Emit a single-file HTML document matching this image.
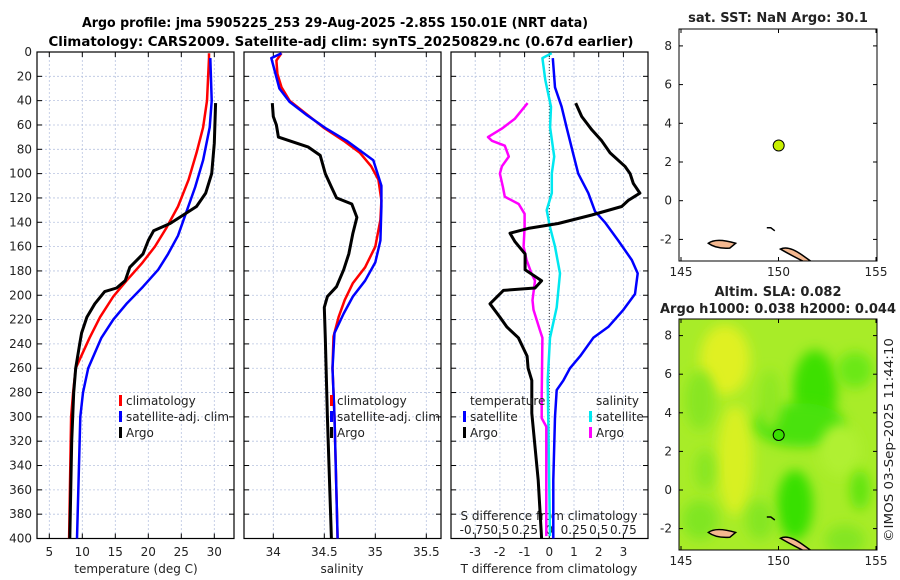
<!DOCTYPE html>
<html><head><meta charset="utf-8">
<style>
html,body{margin:0;padding:0;background:#fff;}
svg{display:block;font-family:"DejaVu Sans","Liberation Sans",sans-serif;}
</style></head>
<body>
<svg id="chart" width="900" height="580" viewBox="0 0 900 580" xmlns="http://www.w3.org/2000/svg">
<defs>
<filter id="blur6" x="-50%" y="-50%" width="200%" height="200%"><feGaussianBlur stdDeviation="6"/></filter>
<clipPath id="clipMap2"><rect x="679" y="319" width="198" height="231"/></clipPath>
<clipPath id="clipMap1"><rect x="679" y="29" width="198" height="232"/></clipPath>
</defs>
<text x="335" y="27" text-anchor="middle" font-size="13" font-weight="bold" textLength="506" lengthAdjust="spacingAndGlyphs">Argo profile: jma 5905225_253 29-Aug-2025 -2.85S 150.01E (NRT data)</text>
<text x="341" y="46" text-anchor="middle" font-size="13" font-weight="bold" textLength="585" lengthAdjust="spacingAndGlyphs">Climatology: CARS2009. Satellite-adj clim: synTS_20250829.nc (0.67d earlier)</text>
<g id="layer"></g>
</svg>
<script>
// ---------- data ----------
const tempDepth = [1,5,40,62,83,105,127,145,160,174,188,201,218,235,260,280,300,400];
const tempClim  = [29.2,29.2,28.9,28.3,27.3,26.1,24.5,22.7,21.0,19.0,16.7,14.7,12.7,11.1,9.0,8.6,8.3,8.0];
const tempSatDepth = [5,40,62,89,111,131,151,166,179,193,207,220,235,260,280,300,400];
const tempSat   = [29.4,29.6,29.3,28.3,27.1,25.8,24.5,23.0,21.5,19.2,16.7,14.7,12.9,10.9,10.1,9.7,9.2];
const argoDepth = [42,75,100,116,127,134,141,147,155,166,177,188,194,197,207,218,231,240,260,280,320,400];
const argoTemp  = [30.2,30.0,29.6,28.7,27.3,25.3,23.3,20.8,20.0,19.2,17.2,16.5,15.2,13.4,11.9,10.7,9.9,9.6,9.0,8.7,8.4,8.1];

const salClimDepth = [1,7,18,29,40,50,62,73,83,94,105,122,138,160,177,190,204,218,234,260,300,400];
const salClim = [34.08,34.03,34.04,34.08,34.16,34.31,34.49,34.69,34.85,34.96,35.03,35.06,35.05,35.0,34.9,34.78,34.70,34.64,34.59,34.58,34.60,34.63];
const salSatDepth = [1,5,30,41,52,63,73,89,110,127,155,173,188,201,215,231,260,300,400];
const salSat = [34.08,33.98,34.06,34.16,34.33,34.52,34.72,34.98,35.06,35.06,35.05,35.0,34.9,34.78,34.69,34.6,34.58,34.6,34.63];
const salArgoDepth = [42,53,60,70,73,78,85,100,111,120,125,136,149,166,179,193,201,210,235,300,400];
const salArgo = [33.99,34.0,34.03,34.05,34.16,34.34,34.46,34.51,34.57,34.62,34.77,34.82,34.78,34.74,34.69,34.62,34.53,34.50,34.51,34.53,34.57];

const dTSatDepth = [5,29,45,62,84,100,116,131,140,155,171,182,199,212,226,235,250,260,270,278,300,352,400];
const dTSat = [0.14,0.23,0.5,0.7,0.97,1.17,1.58,1.85,2.25,2.79,3.34,3.58,3.47,3.0,2.39,1.78,1.25,0.84,0.57,0.3,0.23,0.16,0.16];
const dTArgoDepth = [42,53,64,73,83,94,100,108,116,122,127,134,141,145,149,156,166,179,188,194,196,207,218,226,235,250,260,270,297,352,400];
const dTArgo = [1.07,1.31,1.72,2.12,2.46,3.06,3.27,3.4,3.67,3.2,2.93,1.72,0.36,-0.85,-1.59,-1.39,-0.98,-0.98,-0.31,-0.58,-1.86,-2.4,-2.0,-1.72,-1.25,-0.9,-0.86,-0.71,-0.71,-0.45,-0.31];
const dSSatDepth = [1,5,23,45,62,86,100,116,130,144,160,182,210,235,270,398];
const dSSat = [0.024,-0.07,-0.04,0.017,0.008,0.05,0.025,0.025,-0.026,0.007,0.058,0.108,0.075,0.007,-0.016,0.007];
const dSArgoDepth = [42,55,63,70,73,77,86,94,100,111,119,125,133,144,160,171,182,188,204,212,229,235,283,301,308,398];
const dSArgo = [-0.22,-0.35,-0.48,-0.62,-0.58,-0.45,-0.41,-0.48,-0.50,-0.47,-0.45,-0.31,-0.25,-0.25,-0.26,-0.23,-0.18,-0.145,-0.17,-0.16,-0.094,-0.07,-0.077,-0.077,-0.03,-0.03];

const depthTicks = [0,20,40,60,80,100,120,140,160,180,200,220,240,260,280,300,320,340,360,380,400];
const tempTicks = [5,10,15,20,25,30];
const salTicks = [34,34.5,35,35.5];
const dTTicks = [-3,-2,-1,0,1,2,3];
const dSTicks = [-0.75,-0.5,-0.25,0,0.25,0.5,0.75];
const dSTickLabels = ["-0.75","0.5","0.25","0","0.25","0.5","0.75"];
const lonTicks = [145,150,155];
const latTicks = [-2,0,2,4,6,8];
const argoLon = [150.01];
const argoLat = [2.85];

// ---------- helpers ----------
const NS = "http://www.w3.org/2000/svg";
const layer = document.getElementById('layer');
function mk(tag, attrs, parent){ const e=document.createElementNS(NS,tag); for(const k in attrs) e.setAttribute(k,attrs[k]); (parent||layer).appendChild(e); return e; }

const FS = 12;
const TOP = 52, BOT = 538.5;
const yD = d => TOP + d*(BOT-TOP)/400;
const xT = t => 49.3 + (t-5)*6.6;
const xS = s => 273.3 + (s-34)*102;
const xDT = v => 549.3 + v*24.7;
const xDS = v => 549.3 + v*4*24.7;
const xLon = l => 681 + (l-145)*19.5;
const yLat1 = l => 200.7 - l*19.35;
const yLat2 = l => 490 - l*19.3;

const panels = [{x:37,w:197,name:'temperature'},{x:244,w:197,name:'salinity'},{x:451,w:197,name:'difference'}];

function gridAndFrame(p, xs, xf){
  const g = mk('g',{});
  
  
  xs.forEach(v=>{ const x=xf(v); mk('line',{x1:x,x2:x,y1:TOP,y2:BOT,stroke:'#b8c4e0','stroke-width':0.8,'stroke-dasharray':'2,2'},g); });
  depthTicks.forEach(d=>{ const y=yD(d); if(d>0&&d<400) mk('line',{x1:p.x,x2:p.x+p.w,y1:y,y2:y,stroke:'#b8c4e0','stroke-width':0.8,'stroke-dasharray':'2,2'},g);
    mk('line',{x1:p.x,x2:p.x+5,y1:y,y2:y,stroke:'#000','stroke-width':1},g);
    mk('line',{x1:p.x+p.w-5,x2:p.x+p.w,y1:y,y2:y,stroke:'#000','stroke-width':1},g); });
  xs.forEach(v=>{ const x=xf(v); mk('line',{x1:x,x2:x,y1:BOT,y2:BOT-5,stroke:'#000'},g); mk('line',{x1:x,x2:x,y1:TOP,y2:TOP+5,stroke:'#000'},g); });
  mk('rect',{x:p.x,y:TOP,width:p.w,height:BOT-TOP,fill:'none',stroke:'#000','stroke-width':1.2},g);
  return g;
}
function curve(xs, ds, xf, color, w, name){
  const pts = xs.map((v,i)=>xf(v).toFixed(1)+','+yD(ds[i]).toFixed(1)).join(' ');
  const el = mk('polyline',{points:pts,fill:'none',stroke:color,'stroke-width':w,'stroke-linejoin':'round'});
  
  
}
function txt(x,y,s,opts){ const e=mk('text',Object.assign({x:x,y:y,'font-size':FS,fill:'#222'},opts||{})); e.textContent=s; return e; }

gridAndFrame(panels[0], tempTicks, xT);
gridAndFrame(panels[1], salTicks, xS);
gridAndFrame(panels[2], dTTicks, xDT);
mk('line',{x1:xDT(0),x2:xDT(0),y1:TOP,y2:BOT,stroke:'#333','stroke-width':1,'stroke-dasharray':'1,2'});

depthTicks.forEach(d=>{ const e=txt(32,yD(d)+4,String(d),{'text-anchor':'end'});
    });
tempTicks.forEach(t=>{ const e=txt(xT(t),556,String(t),{'text-anchor':'middle'});
    });
salTicks.forEach(t=>{ const e=txt(xS(t),556,String(t),{'text-anchor':'middle'});
    });
dTTicks.forEach(t=>{ const e=txt(xDT(t),556,String(t),{'text-anchor':'middle'});
    });
dSTicks.forEach((t,i)=>{ const e=txt(xDS(t),534,dSTickLabels[i],{'text-anchor':'middle'});
    });

let e;
e=txt(136,573,'temperature (deg C)',{'text-anchor':'middle'});  
e=txt(342,573,'salinity',{'text-anchor':'middle'});  
e=txt(549,573,'T difference from climatology',{'text-anchor':'middle'});  
e=txt(549,520,'S difference from climatology',{'text-anchor':'middle'});  

curve(tempClim,tempDepth,xT,'#ff0000',2.5,'temp-climatology-line');
curve(tempSat,tempSatDepth,xT,'#0000ff',2.5,'temp-satellite-line');
curve(argoTemp,argoDepth,xT,'#000',3,'temp-argo-line');
curve(salClim,salClimDepth,xS,'#ff0000',2.5,'sal-climatology-line');
curve(salSat,salSatDepth,xS,'#0000ff',2.5,'sal-satellite-line');
curve(salArgo,salArgoDepth,xS,'#000',3,'sal-argo-line');
curve(dSSat,dSSatDepth,xDS,'#00e8f0',2.5,'s-diff-satellite-line');
curve(dSArgo,dSArgoDepth,xDS,'#ff00ff',2.5,'s-diff-argo-line');
curve(dTSat,dTSatDepth,xDT,'#0000ff',2.5,'t-diff-satellite-line');
curve(dTArgo,dTArgoDepth,xDT,'#000',3,'t-diff-argo-line');

function legend(x,y,color,label,name){
  const g=mk('g',{});  
  mk('rect',{x:x,y:y-10,width:3,height:11,fill:color},g);
  const t=mk('text',{x:x+7,y:y,'font-size':FS,fill:'#222'},g); t.textContent=label;
}
legend(119,405,'#ff0000','climatology','legend-temp-climatology');
legend(119,421,'#0000ff','satellite-adj. clim','legend-temp-satellite');
legend(119,437,'#000','Argo','legend-temp-argo');
legend(330,405,'#ff0000','climatology','legend-sal-climatology');
legend(330,421,'#0000ff','satellite-adj. clim','legend-sal-satellite');
legend(330,437,'#000','Argo','legend-sal-argo');
e=txt(470,405,'temperature');  
e=txt(596,405,'salinity');  
legend(463,421,'#0000ff','satellite','legend-t-diff-satellite');
legend(463,437,'#000','Argo','legend-t-diff-argo');
legend(589,421,'#00e8f0','satellite','legend-s-diff-satellite');
legend(589,437,'#ff00ff','Argo','legend-s-diff-argo');

// ---------- maps ----------
function mapFrame(top,bot,yf,name){
  const g=mk('g',{});  
  lonTicks.forEach(l=>{ const x=xLon(l); mk('line',{x1:x,x2:x,y1:bot,y2:bot-4,stroke:'#000'},g); mk('line',{x1:x,x2:x,y1:top,y2:top+4,stroke:'#000'},g);
    const t=mk('text',{x:x,y:bot+15,'font-size':FS,'text-anchor':'middle',fill:'#222'},g); t.textContent=l; });
  latTicks.forEach(l=>{ const y=yf(l); mk('line',{x1:679,x2:683,y1:y,y2:y,stroke:'#000'},g); mk('line',{x1:873,x2:877,y1:y,y2:y,stroke:'#000'},g);
    const t=mk('text',{x:672,y:y+4,'font-size':FS,'text-anchor':'end',fill:'#222'},g); t.textContent=l; });
  mk('rect',{x:679,y:top,width:198,height:bot-top,fill:'none',stroke:'#000','stroke-width':1},g);
  return g;
}
const bg=mk('g',{'clip-path':'url(#clipMap2)'});  
mk('rect',{x:679,y:319,width:198,height:231,fill:'#a8ec28'},bg);
const blobs=[[725,360,25,35,'#e0f020'],[735,460,18,55,'#d8f020'],[700,400,15,30,'#88e620'],[815,390,22,40,'#3ee000'],[800,425,45,22,'#48e208'],[840,450,20,26,'#b0f030'],[795,505,18,35,'#38e000'],[860,490,10,20,'#60e410'],[855,370,18,18,'#6ae818'],[700,520,18,20,'#80e620'],[760,520,14,20,'#84e620'],[845,540,20,15,'#84e620'],[705,470,10,20,'#88e620'],[770,400,12,30,'#90e820']];
blobs.forEach(b=>mk('ellipse',{cx:b[0],cy:b[1],rx:b[2],ry:b[3],fill:b[4],filter:'url(#blur6)'},bg));
function islands(yf,clip){
  const g=mk('g',{'clip-path':clip});  
  mk('path',{d:`M${xLon(146.4)},${yf(-2.2)} Q${xLon(146.8)},${yf(-1.9)} ${xLon(147.8)},${yf(-2.2)} L${xLon(147.5)},${yf(-2.45)} Q${xLon(146.8)},${yf(-2.5)} ${xLon(146.4)},${yf(-2.2)}Z`,fill:'#f4b890',stroke:'#000','stroke-width':1.5},g);
  mk('path',{d:`M${xLon(150.1)},${yf(-2.5)} Q${xLon(150.5)},${yf(-2.3)} ${xLon(151.2)},${yf(-2.8)} L${xLon(151.9)},${yf(-3.3)} L${xLon(151.6)},${yf(-3.3)} Q${xLon(150.6)},${yf(-2.8)} ${xLon(150.1)},${yf(-2.5)}Z`,fill:'#f4b890',stroke:'#000','stroke-width':1.5},g);
  mk('path',{d:`M${xLon(149.4)},${yf(-1.4)} l4,0 l4,3`,fill:'none',stroke:'#000','stroke-width':1.5},g);
}
islands(yLat1,'url(#clipMap1)');
islands(yLat2,'url(#clipMap2)');
mapFrame(29,261,yLat1,'sst-map');
mapFrame(319,550,yLat2,'sla-map');
e=txt(778,22,'sat. SST: NaN Argo: 30.1',{'text-anchor':'middle','font-weight':'bold','font-size':13});  
e=txt(778,296,'Altim. SLA: 0.082',{'text-anchor':'middle','font-weight':'bold','font-size':13});  
e=txt(778,313,'Argo h1000: 0.038 h2000: 0.044',{'text-anchor':'middle','font-weight':'bold','font-size':13,textLength:236,lengthAdjust:'spacingAndGlyphs'});  
argoLon.forEach((l,i)=>{
  const m1=mk('circle',{cx:xLon(l),cy:yLat1(argoLat[i]),r:5.5,fill:'#c8f000',stroke:'#000','stroke-width':1});
   
  const m2=mk('circle',{cx:xLon(l),cy:yLat2(argoLat[i]),r:5.5,fill:'#38e000',stroke:'#000','stroke-width':1});
   
});
e=txt(0,0,'©IMOS 03-Sep-2025 11:44:10',{'font-size':FS,transform:'translate(893,542) rotate(-90)',textLength:204,lengthAdjust:'spacingAndGlyphs'});  
</script>
</body></html>
